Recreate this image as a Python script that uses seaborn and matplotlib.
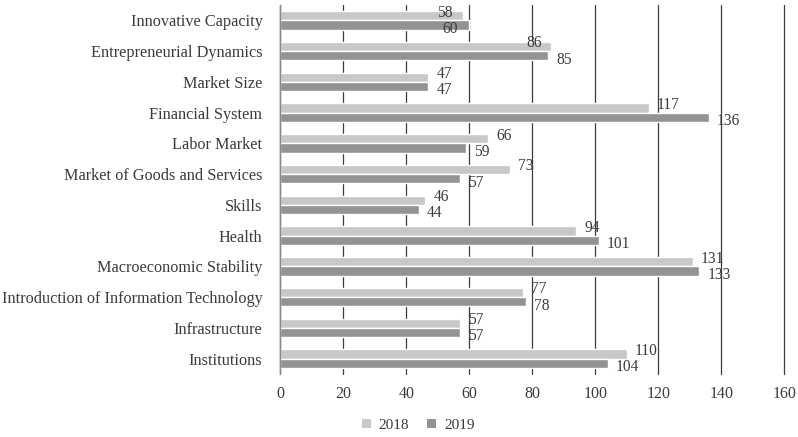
import matplotlib
matplotlib.use("Agg")
import matplotlib.pyplot as plt
from matplotlib.transforms import offset_copy
from matplotlib.patches import Patch
import seaborn as sns
import pandas as pd

categories = [
    "Innovative Capacity",
    "Entrepreneurial Dynamics",
    "Market Size",
    "Financial System",
    "Labor Market",
    "Market of Goods and Services",
    "Skills",
    "Health",
    "Macroeconomic Stability",
    "Introduction of Information Technology",
    "Infrastructure",
    "Institutions",
]
years = ["2018", "2019"]
values_2018 = [58, 86, 47, 117, 66, 73, 46, 94, 131, 77, 57, 110]
values_2019 = [60, 85, 47, 136, 59, 57, 44, 101, 133, 78, 57, 104]
x_ticks = [0, 20, 40, 60, 80, 100, 120, 140, 160]

colors = {"2018": "#c8c8c8", "2019": "#939393"}
text_color = "#3a3a3a"

df = pd.DataFrame({
    "category": categories * 2,
    "year": [years[0]] * len(categories) + [years[1]] * len(categories),
    "value": values_2018 + values_2019,
})

sns.set_theme(style="white")
plt.rcParams["font.family"] = ["Liberation Serif", "DejaVu Serif"]

fig = plt.figure(figsize=(7.98, 4.37), dpi=100)
ax = fig.add_axes([0.3515, 0.1442, 0.9828 - 0.3515, 0.9886 - 0.1442])

sns.barplot(
    data=df, y="category", x="value", hue="year", order=categories,
    hue_order=years, palette=colors, orient="h", width=0.6,
    saturation=1, legend=False, ax=ax,
)

ax.set_xlim(0, 160)
ax.set_ylim(len(categories) - 0.5, -0.5)
ax.set_xticks(x_ticks)
ax.set_xticklabels([str(t) for t in x_ticks])
ax.xaxis.grid(True, color="#3c3c3c", linewidth=0.9)
for gl in ax.get_xgridlines():
    gl.set_clip_on(False)
ax.yaxis.grid(False)
ax.set_axisbelow(True)
ax.set_xlabel("")
ax.set_ylabel("")
for side in ["top", "right", "bottom"]:
    ax.spines[side].set_visible(False)
ax.spines["left"].set_color("#8a8a8a")
ax.spines["left"].set_linewidth(1.0)
ax.tick_params(axis="x", length=0, pad=9, labelsize=11.5, labelcolor=text_color)
ax.tick_params(axis="y", length=0, pad=13, labelsize=11.7, labelcolor=text_color)

# value labels beside each bar; a few sit back over the bar end
label_nudge = {("Innovative Capacity", "2018"): -26,
               ("Innovative Capacity", "2019"): -27,
               ("Entrepreneurial Dynamics", "2018"): -25}
vertical_shift = {"2018": 3, "2019": -4}
for container, year in zip(ax.containers, years):
    for bar, cat in zip(container, categories):
        val = bar.get_width()
        yc = bar.get_y() + bar.get_height() / 2
        dx = label_nudge.get((cat, year), 8)
        tr = offset_copy(ax.transData, fig=fig, x=dx, y=vertical_shift[year], units="dots")
        ax.text(val, yc, f"{val:.0f}", transform=tr, ha="left", va="center",
                fontsize=11.2, color=text_color)

handles = [Patch(facecolor=colors[y], edgecolor="none", label=y) for y in years]
fig.legend(handles=handles, loc="center", bbox_to_anchor=(0.524, 0.027), ncol=2,
           frameon=False, fontsize=11, handlelength=0.6, handleheight=0.6,
           handletextpad=0.5, columnspacing=1.2, labelcolor=text_color)

fig.savefig("out.png", dpi=100)
